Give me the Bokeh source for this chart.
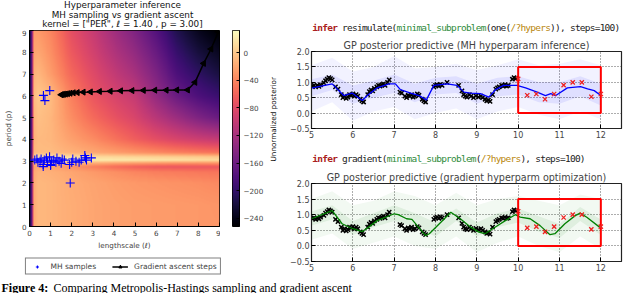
import numpy as np
from bokeh.plotting import figure
from bokeh.models import LinearColorMapper, FixedTicker, Legend, LegendItem, Range1d
from bokeh.layouts import row, column
from bokeh.palettes import Magma256
from bokeh.embed import file_html
from bokeh.resources import INLINE
from bokeh.core.properties import value

# ---------------- data: posterior surface ----------------
ell_grid = [0.0, 0.1, 0.2, 0.4, 1.0, 2.0, 3.0, 4.0, 5.0, 6.0, 7.0, 8.0, 9.0]
period_grid = [0.0, 1.0, 2.0, 2.5, 2.75, 2.9, 3.05, 3.2, 3.4, 4.0, 5.0, 6.0, 7.0, 8.0, 9.0]
log_posterior = [
    [-235, -180, -18, -10, -12, -17, -21, -24, -26, -27, -28, -29, -30],
    [-235, -180, -18, -10, -12, -17, -21, -24, -26, -27, -28, -29, -31],
    [-235, -180, -18, -10, -12, -18, -22, -26, -29, -31, -33, -35, -38],
    [-235, -180, -20, -13, -15, -21, -28, -34, -40, -44, -46, -48, -50],
    [-235, -180, -25, -20, -22, -32, -43, -54, -62, -68, -70, -70, -68],
    [-235, -180, -12, -6, -6, -12, -18, -24, -28, -32, -34, -34, -34],
    [-235, -175, 12, 20, 22, 22, 21, 20, 19, 17, 15, 13, 10],
    [-235, -175, 6, 13, 15, 13, 11, 9, 7, 5, 3, 1, -2],
    [-235, -180, -12, -8, -8, -14, -20, -26, -32, -38, -44, -48, -52],
    [-235, -180, -15, -9, -11, -24, -36, -50, -64, -76, -86, -94, -100],
    [-235, -180, -13, -5, -11, -36, -56, -72, -86, -108, -128, -148, -163],
    [-235, -180, -8, -1, -8, -44, -70, -86, -100, -133, -163, -183, -196],
    [-235, -180, -14, -10, -26, -58, -80, -100, -119, -148, -183, -203, -218],
    [-235, -180, -22, -20, -34, -68, -90, -113, -134, -163, -198, -220, -235],
    [-235, -180, -28, -28, -40, -76, -98, -124, -148, -178, -213, -236, -252],
]
cbar_low, cbar_high = -252, 32
cbar_ticks = [0, -40, -80, -120, -160, -200, -240]

mh_ell = [0.66, 0.96, 0.73,
          0.25, 0.35, 0.4, 0.5, 0.55, 0.65, 0.7, 0.8, 0.85, 0.95, 1.0, 1.05, 1.15,
          1.25, 1.3, 1.4, 1.5, 1.55, 1.65, 1.9, 2.0, 2.05, 2.2, 2.35, 2.45, 2.62,
          2.65, 2.7, 2.93, 1.93, 0.65, 1.0]
mh_period = [6.02, 6.24, 5.78,
             3.05, 3.1, 2.95, 3.0, 3.1, 2.85, 3.05, 3.15, 2.95, 3.2, 2.85, 3.0, 3.05,
             2.95, 3.15, 3.0, 2.9, 3.1, 3.05, 2.85, 2.95, 3.1, 3.0, 2.95, 3.05, 3.26,
             3.15, 3.05, 3.15, 2.0, 2.75, 2.8]

ga_ell = [8.95, 8.6, 8.25, 7.84, 7.49, 6.98, 6.48, 5.94, 5.40, 4.86, 4.32, 3.83, 3.32,
          2.89, 2.55, 2.27, 2.08, 1.93, 1.81, 1.71, 1.62, 1.56, 1.50]
ga_period = [8.95, 8.15, 7.49, 6.62, 6.27, 6.27, 6.26, 6.26, 6.25, 6.24, 6.23, 6.21, 6.2,
             6.18, 6.17, 6.15, 6.14, 6.12, 6.1, 6.08, 6.07, 6.06, 6.05]

# ---------------- data: GP predictive panels ----------------
train_x = [5.02, 5.06, 5.1, 5.14, 5.18, 5.22, 5.3, 5.34, 5.38, 5.42, 5.46, 5.5,
           5.58, 5.64, 5.72, 5.76, 5.8, 5.84, 5.88, 5.92, 5.96, 6.0, 6.04, 6.08, 6.12,
           6.18, 6.22, 6.26, 6.36, 6.4, 6.44, 6.48, 6.52, 6.58, 6.62, 6.66, 6.7, 6.74,
           6.78, 6.84, 6.88, 7.14, 7.18, 7.26, 7.3, 7.34, 7.38, 7.42, 7.46, 7.5, 7.56,
           7.6, 7.68, 7.72, 7.76, 7.96, 8.0, 8.04, 8.08, 8.12, 8.16, 8.28, 8.56, 8.64,
           8.68, 8.72, 8.76, 8.82, 8.86, 8.92, 8.98, 9.04, 9.1, 9.14, 9.2, 9.24, 9.28,
           9.32, 9.38, 9.46, 9.5, 9.54, 9.6, 9.64, 9.68, 9.72, 9.76, 9.86, 9.9, 9.94]
train_y = [0.88, 0.9, 0.85, 0.9, 0.87, 0.92, 0.98, 1.05, 1.1, 1.15, 1.12, 1.08,
           0.85, 0.78, 0.6, 0.5, 0.55, 0.48, 0.52, 0.6, 0.58, 0.62, 0.55, 0.6, 0.55,
           0.45, 0.4, 0.36, 0.6, 0.7, 0.75, 0.72, 0.8, 0.85, 0.9, 0.88, 0.92, 0.95,
           0.9, 1.0, 1.08, 0.68, 0.65, 0.55, 0.5, 0.58, 0.55, 0.6, 0.52, 0.55, 0.62,
           0.58, 0.45, 0.4, 0.36, 0.85, 0.9, 0.92, 0.88, 0.93, 0.9, 1.0, 0.9, 0.72,
           0.6, 0.55, 0.52, 0.6, 0.55, 0.5, 0.56, 0.52, 0.55, 0.5, 0.45, 0.4, 0.42,
           0.38, 0.6, 0.78, 0.82, 0.85, 0.9, 0.88, 0.92, 0.88, 0.9, 1.1, 1.15, 1.13]
test_x = [10.0, 10.22, 10.44, 10.65, 10.87, 11.1, 11.32, 11.54, 11.77, 12.0]
test_y = [1.11, 0.58, 0.62, 0.45, 0.62, 0.91, 1.0, 1.0, 0.53, 0.62]
box_y = [0.0, 1.5]

mh_mean_x = [5.0, 5.5, 5.78, 5.98, 6.23, 6.35, 6.59, 6.87, 7.03, 7.15, 7.4, 7.6, 7.78,
             7.96, 8.28, 8.52, 8.69, 8.85, 9.09, 9.29, 9.45, 9.65, 9.97, 10.18, 10.46,
             10.66, 10.79, 10.91, 11.19, 11.51, 11.68, 11.84, 12.0]
mh_mean_y = [0.81, 0.95, 0.57, 0.65, 0.41, 0.57, 0.82, 0.95, 0.95, 0.76, 0.65, 0.57, 0.43,
             0.9, 0.95, 0.9, 0.68, 0.65, 0.63, 0.52, 0.76, 0.9, 0.9, 0.82, 0.68,
             0.57, 0.63, 0.57, 0.82, 0.86, 0.79, 0.73, 0.57]
gr_mean_x = [5.0, 5.5, 5.74, 6.0, 6.23, 6.35, 6.59, 7.0, 7.1, 7.3, 7.43, 7.76, 7.85,
             8.13, 8.37, 8.6, 8.85, 9.05, 9.2, 9.44, 9.69, 9.93, 10.05, 10.29, 10.53,
             10.77, 10.89, 11.13, 11.38, 11.5, 11.66, 12.0]
gr_mean_y = [0.87, 1.13, 0.71, 0.55, 0.46, 0.57, 0.81, 1.03, 1.0, 0.87, 0.85, 0.33, 0.39,
             0.76, 1.08, 0.87, 0.6, 0.44, 0.39, 0.6, 0.81, 1.0, 0.92, 0.87, 0.65,
             0.36, 0.39, 0.71, 0.97, 1.05, 0.92, 0.57]

band_x = [5.0, 5.5, 6.0, 6.5, 7.0, 7.5, 8.0, 8.5, 9.0, 9.5, 10.0, 10.5, 11.0, 11.5, 12.0]
mh_outer_hi = [1.55, 1.8, 1.35, 1.5, 1.85, 1.45, 1.5, 1.6, 1.4, 1.55, 1.75, 1.55, 1.6, 1.75, 1.55]
mh_outer_lo = [0.05, 0.35, -0.25, 0.05, 0.2, -0.2, 0.0, 0.15, -0.2, 0.05, 0.2, -0.05, -0.2, 0.05, -0.2]
mh_inner_hi = [1.1, 1.25, 0.9, 1.05, 1.25, 0.95, 1.15, 1.2, 0.95, 1.15, 1.2, 1.0, 1.0, 1.2, 0.95]
mh_inner_lo = [0.55, 0.75, 0.3, 0.5, 0.65, 0.35, 0.6, 0.65, 0.3, 0.55, 0.6, 0.35, 0.3, 0.55, 0.25]
gr_outer_hi = [1.5, 1.75, 1.3, 1.45, 1.75, 1.6, 1.3, 1.7, 1.3, 1.5, 1.6, 1.45, 1.3, 1.65, 1.5]
gr_outer_lo = [0.2, 0.4, -0.1, 0.1, 0.3, 0.0, -0.1, 0.3, -0.2, 0.1, 0.3, 0.0, -0.2, 0.3, -0.1]
gr_inner_hi = [1.1, 1.3, 0.8, 1.05, 1.3, 1.05, 0.75, 1.2, 0.75, 1.05, 1.2, 0.95, 0.7, 1.25, 0.85]
gr_inner_lo = [0.65, 0.85, 0.35, 0.6, 0.8, 0.6, 0.3, 0.8, 0.3, 0.6, 0.75, 0.45, 0.25, 0.8, 0.35]

x_ticks = [5, 6, 7, 8, 9, 10, 11, 12]
y_ticks = [-0.5, 0.0, 0.5, 1.0, 1.5, 2.0]
heat_ticks = [0, 1, 2, 3, 4, 5, 6, 7, 8, 9]

heat_title = ["Hyperparameter inference", "MH sampling vs gradient ascent",
              'kernel = ["PER", \u2113 = 1.40 , p = 3.00]']
cbar_label = "Unnormalized posterior"
caption_head = "Figure 4:"
caption_body = "Comparing Metropolis-Hastings sampling and gradient ascent"
code_line_1 = [("infer", "#aa2020", "bold"), (" resimulate(", "#222222", "normal"),
               ("minimal_subproblem", "#2e8b3a", "normal"), ("(one(", "#222222", "normal"),
               ("/?hypers", "#b8860b", "normal"), (")), steps=100)", "#222222", "normal")]
code_line_2 = [("infer", "#aa2020", "bold"), (" gradient(", "#222222", "normal"),
               ("minimal_subproblem", "#2e8b3a", "normal"), ("(", "#222222", "normal"),
               ("/?hypers", "#b8860b", "normal"), ("), steps=100)", "#222222", "normal")]

FONT = "DejaVu Sans"
MONO = "DejaVu Sans Mono"
SERIF = "Liberation Serif"
MINUS = "\u2212"


def bare(w, h, xr=(0, 1), yr=(0, 1)):
    f = figure(width=w, height=h, x_range=Range1d(*xr), y_range=Range1d(*yr),
               output_backend="svg", toolbar_location=None,
               x_axis_type=None, y_axis_type=None, min_border=0)
    f.outline_line_color = None
    f.grid.visible = False
    return f


# ---------------- left: title block ----------------
tf = bare(282, 29, (0, 282), (0, 29))
tf.text(x=[122, 122, 122], y=[24.5, 15, 5.5], text=heat_title, text_color="#111111",
        text_font=value(FONT), text_font_size="8.8px", text_align="center",
        text_baseline="middle")

# ---------------- left: heatmap ----------------
lg = np.array(ell_grid)
pg = np.array(period_grid)
Z0 = np.array(log_posterior, dtype=float)
fx = np.linspace(0, 9, 391)
fy = np.linspace(0, 9, 393)
Zr = np.array([np.interp(fx, lg, r) for r in Z0])
Z = np.array([np.interp(fy, pg, Zr[:, j]) for j in range(Zr.shape[1])]).T

mapper = LinearColorMapper(palette=Magma256, low=cbar_low, high=cbar_high)

hp = figure(width=220, height=223, x_range=Range1d(0, 9), y_range=Range1d(0, 9),
            output_backend="svg", toolbar_location=None,
            min_border_left=25, min_border_right=1, min_border_top=1, min_border_bottom=26)
hp.image(image=[Z], x=0, y=0, dw=9, dh=9, color_mapper=mapper)
mh_r = hp.scatter(mh_ell, mh_period, marker="cross", size=9, line_color="#0000ff", line_width=1.1)
ga_l = hp.line(ga_ell, ga_period, line_color="black", line_width=1.5)
ga_m = hp.scatter(ga_ell, ga_period, marker="triangle", angle=np.pi / 2, size=6,
                  fill_color="black", line_color="black")
for ax in (hp.xaxis[0], hp.yaxis[0]):
    ax.ticker = FixedTicker(ticks=heat_ticks)
    ax.major_tick_in = 4
    ax.major_tick_out = 0
    ax.minor_tick_line_color = None
    ax.major_label_text_font = FONT
    ax.major_label_text_font_size = "7.2px"
    ax.major_label_standoff = 3
    ax.axis_label_text_font = FONT
    ax.axis_label_text_font_size = "7.2px"
    ax.axis_label_text_font_style = "normal"
    ax.axis_line_color = "black"
hp.xaxis.axis_label = "lengthscale (\u2113)"
hp.yaxis.axis_label = "period (p)"
hp.xaxis.axis_label_standoff = 2
hp.yaxis.axis_label_standoff = 6
hp.grid.visible = False
hp.outline_line_color = "black"

# ---------------- left: colour bar as its own small plot ----------------
cf = figure(width=46, height=223, x_range=Range1d(0, 1), y_range=Range1d(cbar_low, cbar_high),
            output_backend="svg", toolbar_location=None, x_axis_type=None,
            y_axis_location="right",
            min_border_left=12, min_border_right=23, min_border_top=1, min_border_bottom=26)
cbar_vals = np.linspace(cbar_low, cbar_high, 256).reshape(-1, 1)
cf.image(image=[cbar_vals], x=0, y=cbar_low, dw=1, dh=cbar_high - cbar_low, color_mapper=mapper)
cax = cf.yaxis[0]
cax.ticker = FixedTicker(ticks=cbar_ticks)
cax.major_label_overrides = {v: str(v).replace("-", MINUS) for v in cbar_ticks}
cax.major_tick_in = 3
cax.major_tick_out = 0
cax.minor_tick_line_color = None
cax.major_label_text_font = FONT
cax.major_label_text_font_size = "7.2px"
cax.major_label_standoff = 4
cax.axis_line_color = "black"
cf.grid.visible = False
cf.outline_line_color = "black"

# colour-bar label, rotated to read bottom-to-top
labf = bare(16, 223, (0, 16), (0, 223))
labf.text(x=[6.5], y=[122], text=[cbar_label], angle=np.pi / 2, text_color="#111111",
          text_font=value(FONT), text_font_size="7.2px", text_align="center",
          text_baseline="middle")

# ---------------- left: legend strip ----------------
lf = bare(245, 28, (-30, -29), (-30, -29))
lm = lf.scatter(mh_ell, mh_period, marker="cross", size=8, line_color="#0000ff", line_width=1.1)
ll = lf.line(ga_ell, ga_period, line_color="black", line_width=1.5)
lt = lf.scatter(ga_ell, ga_period, marker="triangle", angle=np.pi / 2, size=5,
                fill_color="black", line_color="black")
leg = Legend(items=[LegendItem(label="MH samples", renderers=[lm]),
                    LegendItem(label="Gradient ascent steps", renderers=[ll, lt])],
             orientation="horizontal", location="center",
             label_text_font=FONT, label_text_font_size="7.5px",
             label_height=8, glyph_height=8, glyph_width=16, padding=3, spacing=16,
             margin=0, border_line_color="black", border_line_width=1, label_standoff=6)
lf.add_layout(leg)

# ---------------- right: code lines + GP panels ----------------
RW = 358


def code_fig(segments, h, ymid):
    f = bare(RW, h, (0, RW), (0, h))
    fs = 9.5
    cw = 5.72
    chars = {"bold": ([], [], []), "normal": ([], [], [])}
    pos = 0
    for txt, col, style in segments:
        for ch in txt:
            if ch != " ":
                xs, ts, cs = chars[style]
                xs.append(1 + pos * cw)
                ts.append(ch)
                cs.append(col)
            pos += 1
    for style, (xs, ts, cs) in chars.items():
        f.text(x=xs, y=[ymid] * len(xs), text=ts, text_color=cs,
               text_font=value(MONO), text_font_size=f"{fs}px", text_font_style=style,
               text_baseline="middle", text_align="left")
    return f


def gp_fig(h, top, bottom, title, color, mx, my, ohi, olo, ihi, ilo):
    f = figure(width=RW, height=h, x_range=Range1d(5, 12.5), y_range=Range1d(-0.5, 2.0),
               output_backend="svg", toolbar_location=None,
               min_border_left=29, min_border_right=19, min_border_top=top, min_border_bottom=bottom)
    f.title.text = title
    f.title.align = "center"
    f.title.text_font = FONT
    f.title.text_font_size = "9.6px"
    f.title.text_font_style = "normal"
    f.title.standoff = 2
    f.varea(x=band_x, y1=olo, y2=ohi, fill_color=color, fill_alpha=0.05)
    f.varea(x=band_x, y1=ilo, y2=ihi, fill_color=color, fill_alpha=0.08)
    f.scatter(train_x, train_y, marker="x", size=6, line_color="black", line_width=1.5)
    f.line(mx, my, line_color=color, line_width=1.3)
    f.quad(left=min(test_x), right=max(test_x), bottom=box_y[0], top=box_y[1],
           fill_color=None, line_color="#ff0000", line_width=2)
    f.scatter(test_x, test_y, marker="x", size=6, line_color="#ee2020", line_width=1.3)
    f.xaxis.ticker = FixedTicker(ticks=x_ticks)
    f.yaxis.ticker = FixedTicker(ticks=y_ticks)
    f.yaxis.major_label_overrides = {v: (f"{v:.1f}".replace("-", MINUS)) for v in y_ticks}
    for ax in (f.xaxis[0], f.yaxis[0]):
        ax.major_tick_in = 4
        ax.major_tick_out = 0
        ax.minor_tick_line_color = None
        ax.major_label_text_font = FONT
        ax.major_label_text_font_size = "8px"
        ax.major_label_standoff = 2
        ax.axis_line_color = "#222222"
    f.grid.grid_line_color = "#333333"
    f.grid.grid_line_dash = "1 2"
    f.grid.grid_line_alpha = 0.8
    f.outline_line_color = "#222222"
    f.outline_line_width = 1.2
    return f


c1 = code_fig(code_line_1, 35, 8)
g1 = gp_fig(110, 16, 17, "GP posterior predictive (MH hyperparam inference)", "#0000ff",
            mh_mean_x, mh_mean_y, mh_outer_hi, mh_outer_lo, mh_inner_hi, mh_inner_lo)
c2 = code_fig(code_line_2, 22, 9)
g2 = gp_fig(113, 16, 19, "GP posterior predictive (gradient hyperparm optimization)", "#008000",
            gr_mean_x, gr_mean_y, gr_outer_hi, gr_outer_lo, gr_inner_hi, gr_inner_lo)

# ---------------- caption strip (cut off in the source picture) ----------------
capf = bare(640, 13, (0, 640), (0, 13))
capf.text(x=[1], y=[6], text=[caption_head], text_color="#000000",
          text_font=value(SERIF), text_font_size="12px", text_font_style="bold",
          text_align="left", text_baseline="middle")
capf.text(x=[53], y=[6], text=[caption_body], text_color="#000000",
          text_font=value(SERIF), text_font_size="12px",
          text_align="left", text_baseline="middle")

left = column(tf, row(hp, cf, labf), lf)
right = column(c1, g1, c2, g2)
layout = column(row(left, right), capf)
open("out.html", "w").write(file_html(layout, INLINE))
